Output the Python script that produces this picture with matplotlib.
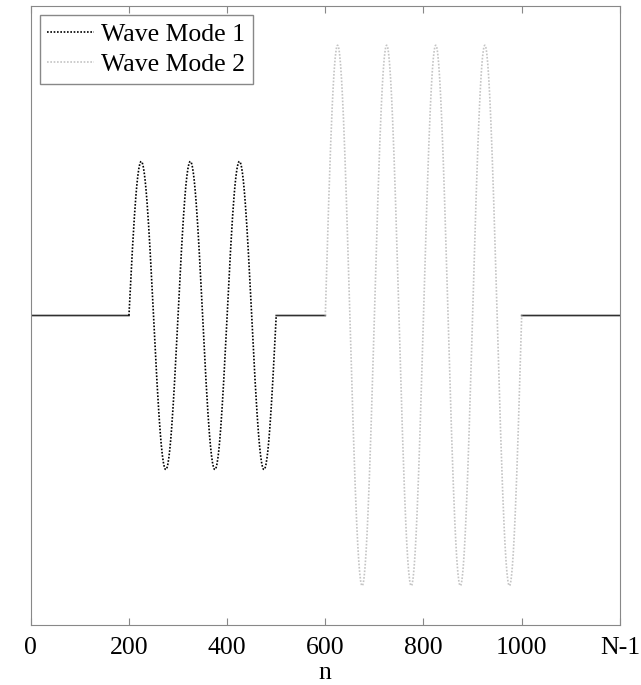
import numpy as np
import matplotlib.pyplot as plt

plt.rcParams['font.family'] = ['Liberation Serif', 'DejaVu Serif']

# signal length and the two wave packets
N = 1201
mode1_start, mode1_end, mode1_amp, mode1_period = 200, 500, 0.57, 100
mode2_start, mode2_end, mode2_amp, mode2_period = 600, 1000, 1.0, 100
tick_values = [0, 200, 400, 600, 800, 1000, 1200]
tick_labels = ['0', '200', '400', '600', '800', '1000', 'N-1']

n = np.arange(N)

n1 = n[(n >= mode1_start) & (n <= mode1_end)]
wave1 = mode1_amp * np.sin(2 * np.pi * (n1 - mode1_start) / mode1_period)

n2 = n[(n >= mode2_start) & (n <= mode2_end)]
wave2 = mode2_amp * np.sin(2 * np.pi * (n2 - mode2_start) / mode2_period)

# flat part of the signal outside the two packets
base = np.zeros(N)
base[(n > mode1_start) & (n < mode1_end)] = np.nan
base[(n > mode2_start) & (n < mode2_end)] = np.nan

fig = plt.figure(figsize=(6.41, 6.85), dpi=100)
ax = fig.add_axes([0.048, 0.0876, 0.919, 0.9036])

ax.plot(n, base, color='#303030', lw=1.2)
ax.plot(n1, wave1, color='black', lw=1.2, ls=(0, (1, 1)), label='Wave Mode 1')
ax.plot(n2, wave2, color='#c4c4c4', lw=1.2, ls=(0, (1, 1)), label='Wave Mode 2')

ax.set_xlim(0, 1200)
ax.set_ylim(-1.145, 1.145)
ax.set_xticks(tick_values)
ax.set_xticklabels(tick_labels)
ax.set_yticks([])
ax.tick_params(axis='x', direction='in', top=True, length=5, labelsize=18.5, pad=9, color='#888888')
ax.set_xlabel('n', fontsize=18.5, labelpad=2)
for s in ax.spines.values():
    s.set_color('#888888')

leg = ax.legend(loc='upper left', fontsize=18.5, fancybox=False, framealpha=1,
                edgecolor='#888888', handlelength=1.8, borderpad=0.3,
                labelspacing=0.3, handletextpad=0.3, borderaxespad=0.35)
leg.get_frame().set_linewidth(1.0)

fig.savefig('out.png', dpi=100)
